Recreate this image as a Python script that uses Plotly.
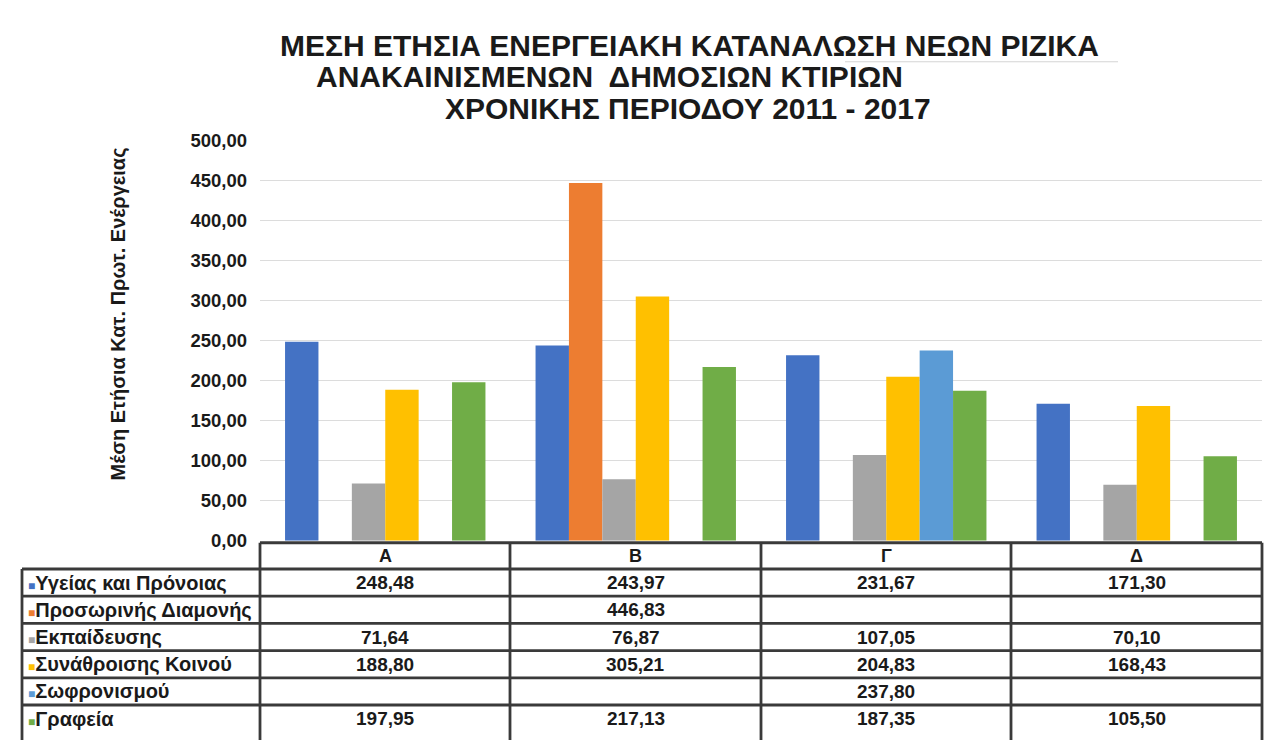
import plotly.graph_objects as go

W, H = 1273, 742

categories = ["Α", "Β", "Γ", "Δ"]
series_names = ["Υγείας και Πρόνοιας", "Προσωρινής Διαμονής", "Εκπαίδευσης",
                "Συνάθροισης Κοινού", "Σωφρονισμού", "Γραφεία"]
ygeias = [248.48, 243.97, 231.67, 171.30]
prosorinis = [None, 446.83, None, None]
ekpaideusis = [71.64, 76.87, 107.05, 70.10]
synathroisis = [188.80, 305.21, 204.83, 168.43]
sofronismou = [None, None, 237.80, None]
grafeia = [197.95, 217.13, 187.35, 105.50]
series_values = [ygeias, prosorinis, ekpaideusis, synathroisis, sofronismou, grafeia]
colors = ["#4472C4", "#ED7D31", "#A5A5A5", "#FFC000", "#5B9BD5", "#70AD47"]

title_lines = ["ΜΕΣΗ ΕΤΗΣΙΑ ΕΝΕΡΓΕΙΑΚΗ ΚΑΤΑΝΑΛΩΣΗ ΝΕΩΝ ΡΙΖΙΚΑ",
               "ΑΝΑΚΑΙΝΙΣΜΕΝΩΝ  ΔΗΜΟΣΙΩΝ ΚΤΙΡΙΩΝ",
               "ΧΡΟΝΙΚΗΣ ΠΕΡΙΟΔΟΥ 2011 - 2017"]
y_title = "Μέση Ετήσια Κατ. Πρωτ. Ενέργειας"

# the page puts the figure 8px in from the top-left corner
OFF = 8


def px_x(x):
    return (x - OFF) / W


def px_y(y):
    return 1 - (y - OFF) / H


def fmt(v):
    return f"{v:.2f}".replace(".", ",")


FONT = "Liberation Sans, Arial, sans-serif"
TEXT = "#1a1a1a"
LINE = "#3a3a3a"

# plot area / table geometry (pixels in the reference)
PL, PR = 260, 1262
Y0, Y500 = 545, 133
TABLE_L = 22
HEAD_TOP, HEAD_BOT = 547, 574
row_lines = [574, 602, 630, 658, 686, 714, 750]
col_lines = [260, 510, 761, 1011, 1262]

fig = go.Figure()
for name, vals, col in zip(series_names, series_values, colors):
    fig.add_trace(go.Bar(x=categories, y=vals, name=name, marker_color=col,
                         marker_line_width=0))

annotations = []
tl_pos = [(690, 35), (609, 67), (688, 100)]
for txt, (cx, cy) in zip(title_lines, tl_pos):
    annotations.append(dict(text=f"<b>{txt}</b>", x=px_x(cx), y=px_y(cy),
                            xref="paper", yref="paper", showarrow=False,
                            xanchor="center", yanchor="middle",
                            font=dict(family=FONT, size=30, color=TEXT)))

annotations.append(dict(text=f"<b>{y_title}</b>", x=px_x(118), y=px_y(312),
                        xref="paper", yref="paper", showarrow=False, textangle=-90,
                        xanchor="center", yanchor="middle",
                        font=dict(family=FONT, size=20, color=TEXT)))

# table header
for c in categories:
    annotations.append(dict(text=f"<b>{c}</b>", x=c, y=px_y((HEAD_TOP + HEAD_BOT) / 2),
                            xref="x", yref="paper", showarrow=False,
                            xanchor="center", yanchor="middle",
                            font=dict(family=FONT, size=18, color=TEXT)))

# table rows
for i, (name, vals, col) in enumerate(zip(series_names, series_values, colors)):
    cy = px_y((row_lines[i] + min(row_lines[i + 1], 742)) / 2)
    annotations.append(dict(text=f"<span style='color:{col};font-size:12px'>■</span><b>{name}</b>",
                            x=px_x(26), y=cy, xref="paper", yref="paper",
                            showarrow=False, xanchor="left", yanchor="middle",
                            font=dict(family=FONT, size=20, color=TEXT)))
    for c, v in zip(categories, vals):
        if v is None:
            continue
        annotations.append(dict(text=f"<b>{fmt(v)}</b>", x=c, y=cy,
                                xref="x", yref="paper", showarrow=False,
                                xanchor="center", yanchor="middle",
                                font=dict(family=FONT, size=19, color=TEXT)))

shapes = []
lw = 2.8
# faint rule next to the first title line
shapes.append(dict(type="line", xref="paper", yref="paper", x0=px_x(845), x1=px_x(1118),
                   y0=px_y(52), y1=px_y(52), line=dict(color="#d4d4d4", width=1)))
# header box top
shapes.append(dict(type="line", xref="paper", yref="paper", x0=px_x(PL), x1=px_x(PR),
                   y0=px_y(HEAD_TOP), y1=px_y(HEAD_TOP), line=dict(color=LINE, width=lw)))
# horizontal row lines
for y in row_lines[:-1]:
    shapes.append(dict(type="line", xref="paper", yref="paper", x0=px_x(TABLE_L), x1=px_x(PR),
                       y0=px_y(y), y1=px_y(y), line=dict(color=LINE, width=lw)))
# vertical lines
for x in col_lines:
    shapes.append(dict(type="line", xref="paper", yref="paper", x0=px_x(x), x1=px_x(x),
                       y0=px_y(HEAD_TOP), y1=px_y(row_lines[-1]), line=dict(color=LINE, width=lw)))
shapes.append(dict(type="line", xref="paper", yref="paper", x0=px_x(TABLE_L), x1=px_x(TABLE_L),
                   y0=px_y(row_lines[0]), y1=px_y(row_lines[-1]), line=dict(color=LINE, width=lw)))

fig.update_layout(
    width=W, height=H,
    margin=dict(l=0, r=0, t=0, b=0),
    paper_bgcolor="white", plot_bgcolor="white",
    separators=",.",
    barmode="group", bargap=0.2, bargroupgap=0,
    showlegend=False,
    font=dict(family=FONT, color=TEXT),
    xaxis=dict(domain=[px_x(PL), px_x(PR)], showticklabels=False, showgrid=False,
               zeroline=False, showline=False),
    yaxis=dict(domain=[px_y(Y0), px_y(Y500)], range=[0, 500], dtick=50,
               tickformat=".2f", showgrid=True, gridcolor="#dcdcdc", gridwidth=1,
               zeroline=False, showline=False, ticks="", ticklabelstandoff=12,
               tickfont=dict(family=FONT, size=18.5, color=TEXT, weight="bold")),
    annotations=annotations,
    shapes=shapes,
)

fig.write_html("out.html")
